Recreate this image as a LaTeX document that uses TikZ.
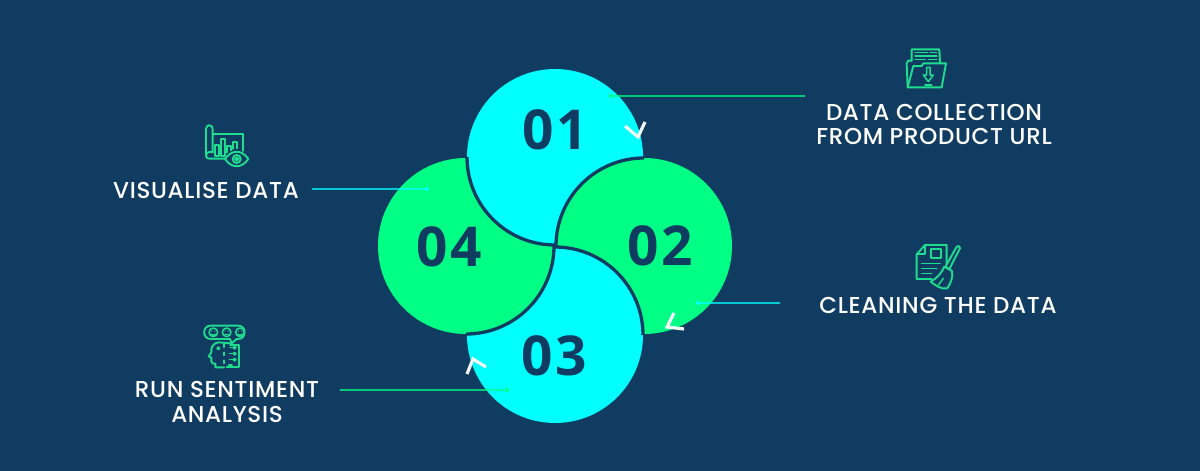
\documentclass[tikz,border=0pt]{standalone}
\usepackage{fontspec}
\setmainfont{Poppins Medium}[LetterSpace=3]
\newfontfamily\numfont{Open Sans Bold}[LetterSpace=4]
\definecolor{bgnavy}{HTML}{113C61}
\definecolor{cyanfill}{HTML}{00FFFF}
\definecolor{greenfill}{HTML}{00FF85}
\definecolor{iconcol}{HTML}{1FDC8F}
\tikzset{
  disc/.style={circle,minimum size=176pt,inner sep=0pt,outer sep=0pt,fill=#1},
  seam/.style={draw=bgnavy,line width=3.3pt},
  num/.style={text=bgnavy,font=\numfont\fontsize{55}{55}\selectfont,inner sep=0pt},
  lab/.style={text=white,font=\fontsize{23}{24.5}\selectfont,align=center,inner sep=0pt},
  chev/.style={draw=white,line width=3.2pt,opacity=.95},
  lead/.style={line width=1.1pt,draw=#1,opacity=.72},
  leaddot/.style={circle,fill=#1,minimum size=4pt,inner sep=0pt},
  ico/.style={draw=iconcol,line width=1.9pt,line join=round,line cap=round},
  icosmall/.style={draw=iconcol,line width=1.5pt,line join=round,line cap=round}
}
\begin{document}
\begin{tikzpicture}[x=1pt,y=-1pt]
\fill[bgnavy] (0,0) rectangle (1200,471);
\useasboundingbox (0,0) rectangle (1200,471);
% discs
\node[disc=cyanfill] (c1) at (555,157) {};
\node[disc=greenfill] (c2) at (644,246) {};
\node[disc=cyanfill] (c3) at (555,335) {};
\node[disc=greenfill] (c4) at (466,246) {};
\fill[cyanfill] (c1.center) -- (c1.west) arc[start angle=180,end angle=270,radius=88pt] -- cycle;
% seams
\draw[seam] (c1.west) arc[start angle=180,end angle=270,radius=88pt];
\draw[seam] (c2.north) arc[start angle=90,end angle=180,radius=88pt];
\draw[seam] (c3.north) arc[start angle=90,end angle=0,radius=88pt];
\draw[seam] (c4.east) arc[start angle=0,end angle=-90,radius=88pt];
% numbers
\node[num] (n1) at (555,130) {01};
\node[num] (n2) at (660,246) {02};
\node[num] (n3) at (554,356) {03};
\node[num] (n4) at (449,247) {04};
% chevrons
\draw[chev] (625,126) -- (638,137) -- (645,122);
\draw[chev] (674,313) -- (667,327) -- (684,329);
\draw[chev] (467,374) -- (473,359) -- (486,367);
% leaders
\coordinate (a1) at (805,96); \coordinate (b1) at (611,96);
\coordinate (a2) at (780,303); \coordinate (b2) at (698,303);
\coordinate (a3) at (340,390); \coordinate (b3) at (507,390);
\coordinate (a4) at (312,189); \coordinate (b4) at (427,189);
\draw[lead=greenfill] (a1) -- (b1);
\draw[lead=cyanfill] (a2) -- (b2);
\draw[lead=greenfill] (a3) -- (b3);
\draw[lead=cyanfill] (a4) -- (b4);
\node[leaddot=greenfill] at (b1) {};
\node[leaddot=cyanfill] at (b2) {};
\node[leaddot=greenfill] at (b3) {};
\node[leaddot=cyanfill] at (b4) {};
% labels
\node[lab] (l1) at (934,124.5) {DATA COLLECTION\\FROM PRODUCT URL};
\node[lab] (l2) at (938,305) {CLEANING THE DATA};
\node[lab] (l3) at (227,402) {RUN SENTIMENT\\ANALYSIS};
\node[lab] (l4) at (206,190.5) {VISUALISE DATA};
% folder icon
\begin{scope}[shift={(880,30)},scale=1/3]
\draw[ico] (95,92) -- (95,58) -- (178,58) -- (180,98);
\draw[icosmall] (105,68) -- (142,68) (150,68) -- (170,68) (105,78) -- (170,78) (105,88) -- (135,88) (145,88) -- (170,88);
\draw[ico] (83,172) -- (80,100) -- (85,92) -- (95,92);
\draw[ico] (83,172) -- (100,108) -- (125,108) -- (130,100) -- (198,100) -- (185,172) -- cycle;
\draw[icosmall] (140,112) -- (150,112) -- (150,135) -- (160,135) -- (145,155) -- (130,135) -- (140,135) -- cycle;
\draw[ico] (135,165) -- (155,165);
\end{scope}
% document and broom icon
\begin{scope}[shift={(890,235)},scale=1/3]
\draw[ico] (170,88) -- (170,30) -- (105,30) -- (80,58) -- (80,132) -- (125,132);
\draw[ico] (105,30) -- (105,58) -- (80,58);
\draw[ico] (122,42) rectangle (152,68);
\draw[icosmall] (95,85) -- (150,85) (95,100) -- (140,100) (95,115) -- (125,115);
\draw[ico] (200,35) .. controls (204,30) and (212,34) .. (210,40) -- (178,102) -- (166,96) -- cycle;
\draw[ico] (163,95) .. controls (155,115) and (140,130) .. (122,140) .. controls (135,150) and (155,165) .. (172,160) .. controls (182,145) and (190,125) .. (186,108) -- cycle;
\draw[icosmall] (145,150) -- (160,130);
\end{scope}
% chart and eye icon
\begin{scope}[shift={(180,115)},scale=1/3]
\draw[ico] (78,122) -- (78,42) .. controls (78,27) and (98,27) .. (98,42) -- (98,112) .. controls (90,108) and (78,112) .. (78,122) .. controls (78,128) and (82,131) .. (88,131) -- (135,131);
\draw[ico] (98,58) -- (188,58) -- (188,108);
\draw[ico] (105,122) -- (105,90) -- (118,90) -- (118,122) -- cycle;
\draw[ico] (123,122) -- (123,72) -- (136,72) -- (136,122) -- cycle;
\draw[ico] (141,112) -- (141,92) -- (153,92) -- (153,106);
\draw[ico] (158,102) -- (158,82) -- (170,82) -- (170,100);
\draw[ico] (135,132) .. controls (155,103) and (185,103) .. (205,132) .. controls (185,161) and (155,161) .. (135,132) -- cycle;
\draw[ico] (170,132) circle[radius=12pt];
\draw[ico] (170,132) circle[radius=5pt];
\end{scope}
% sentiment head icon
\begin{scope}[shift={(180,315)},scale=1/3]
\draw[ico] (92,32) -- (175,32) .. controls (200,32) and (200,72) .. (175,72) -- (170,72) -- (155,85) -- (150,72) -- (92,72) .. controls (66,72) and (66,32) .. (92,32) -- cycle;
\foreach \cx in {100,140,180}{
  \draw[icosmall] (\cx,52) circle[radius=13pt];
  \fill[iconcol] (\cx-5,48) circle[radius=2pt] (\cx+5,48) circle[radius=2pt];
}
\draw[icosmall] (93,58) .. controls (97,62) and (103,62) .. (107,58);
\draw[icosmall] (134,58) -- (146,58);
\draw[icosmall] (173,58) .. controls (177,62) and (183,62) .. (187,58);
\draw[ico] (150,85) -- (115,82) .. controls (98,84) and (92,100) .. (94,112) -- (86,124) -- (94,128) -- (94,140) .. controls (95,146) and (100,146) .. (106,146) -- (106,157) -- (132,157);
\draw[ico] (150,90) -- (176,90) -- (176,155) -- (140,155);
\draw[icosmall,dash pattern=on 3pt off 5pt] (132,88) -- (132,150);
\draw[icosmall] (115,100) circle[radius=4pt];
\draw[icosmall] (150,98) -- (160,98) (148,116) -- (160,116) (148,134) -- (160,134) (146,150) -- (156,150);
\foreach \dy in {98,116,134}{\draw[icosmall] (164,\dy) circle[radius=4pt];}
\end{scope}
\end{tikzpicture}
\end{document}
